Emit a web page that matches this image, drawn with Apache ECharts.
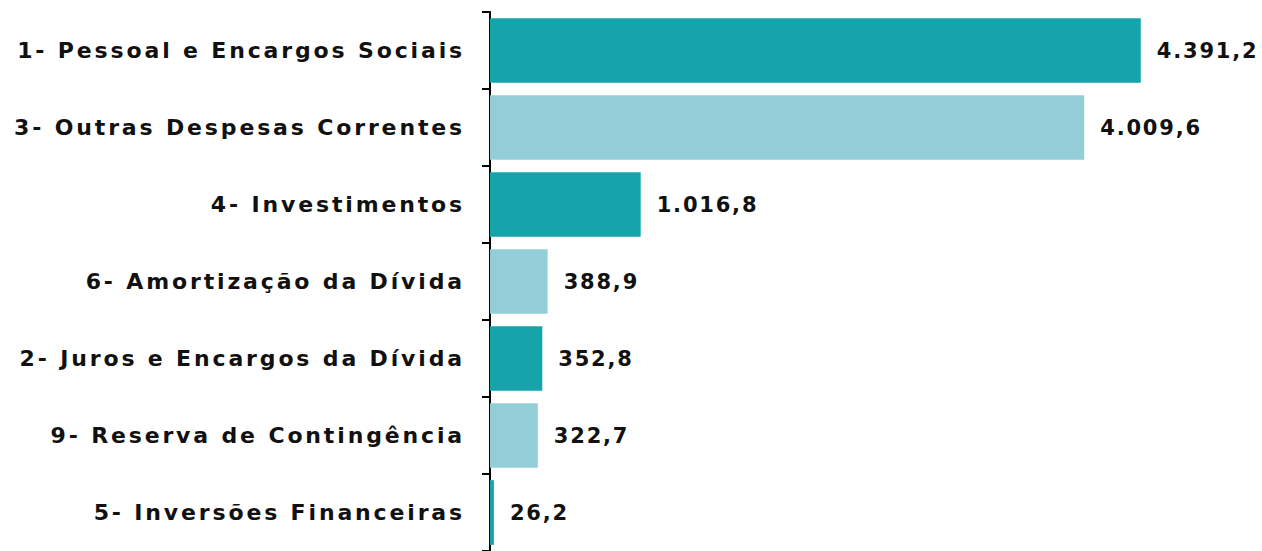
<!DOCTYPE html>
<html>
<head>
<meta charset="utf-8">
<script src="https://cdn.jsdelivr.net/npm/echarts@6/dist/echarts.min.js"></script>
<style>
html,body{margin:0;padding:0;background:#fff;}
#chart{width:1262px;height:551px;}
#chart svg text{letter-spacing:1.8px;}
#chart svg text[text-anchor="end"]{letter-spacing:2.85px;}
</style>
</head>
<body>
<div id="chart"></div>
<script>
const categories = [
  "1- Pessoal e Encargos Sociais",
  "3- Outras Despesas Correntes",
  "4- Investimentos",
  "6- Amortização da Dívida",
  "2- Juros e Encargos da Dívida",
  "9- Reserva de Contingência",
  "5- Inversões Financeiras"
];
const values = [4391.2, 4009.6, 1016.8, 388.9, 352.8, 322.7, 26.2];
const colors = ["#15a4a9", "#93ced8"];

function fmt(v){
  const parts = v.toFixed(1).split(".");
  parts[0] = parts[0].replace(/\B(?=(\d{3})+(?!\d))/g, ".");
  return parts[0] + "," + parts[1];
}

const chart = echarts.init(document.getElementById("chart"), null, {renderer: "svg"});
chart.setOption({
  animation: false,
  grid: {left: 490, top: 12, bottom: -3, width: 741, containLabel: false},
  xAxis: {
    type: "value", min: 0, max: 5000, show: false
  },
  yAxis: {
    type: "category",
    inverse: true,
    data: categories,
    axisLine: {show: true, lineStyle: {color: "#000", width: 2}},
    axisTick: {show: true, length: 8, lineStyle: {color: "#000", width: 2}},
    axisLabel: {
      margin: 25,
      color: "#111",
      fontFamily: "DejaVu Sans",
      fontWeight: "bold",
      fontSize: 22
    },
    splitLine: {show: false}
  },
  series: [{
    type: "bar",
    data: values.map((v, i) => ({value: v, itemStyle: {color: colors[i % 2]}})),
    barCategoryGap: "16%",
    label: {
      show: true,
      position: "right",
      distance: 16,
      color: "#111",
      fontFamily: "DejaVu Sans",
      fontWeight: "bold",
      fontSize: 21,
      formatter: p => fmt(p.value)
    }
  }]
});
</script>
</body>
</html>
